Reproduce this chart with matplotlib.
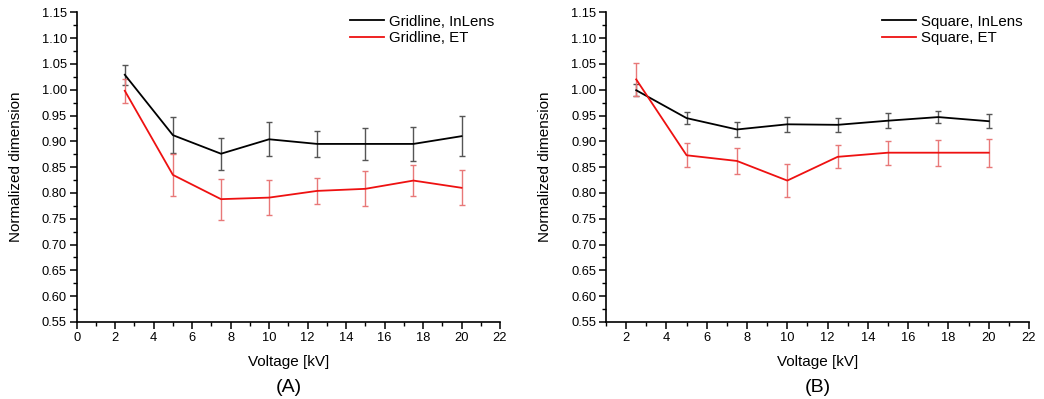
import numpy as np
import matplotlib.pyplot as plt
from matplotlib.ticker import MultipleLocator

plt.rcParams['font.family'] = ['Liberation Sans', 'DejaVu Sans']

# Tensión de aceleración [kV]
voltaje = [2.5, 5, 7.5, 10, 12.5, 15, 17.5, 20]

# (A) Gridline
grid_inlens = [1.029, 0.912, 0.876, 0.904, 0.895, 0.895, 0.895, 0.910]
grid_inlens_err = [0.019, 0.035, 0.031, 0.033, 0.026, 0.031, 0.033, 0.039]
grid_et = [0.998, 0.835, 0.788, 0.791, 0.804, 0.808, 0.824, 0.810]
grid_et_err = [0.023, 0.041, 0.040, 0.034, 0.025, 0.034, 0.030, 0.034]

# (B) Square
sq_inlens = [0.999, 0.945, 0.923, 0.933, 0.932, 0.940, 0.947, 0.939]
sq_inlens_err = [0.012, 0.011, 0.015, 0.015, 0.014, 0.015, 0.011, 0.014]
sq_et = [1.020, 0.873, 0.862, 0.824, 0.870, 0.878, 0.878, 0.878]
sq_et_err = [0.032, 0.023, 0.026, 0.032, 0.022, 0.023, 0.025, 0.027]

fig = plt.figure(figsize=(10.44, 3.99), dpi=100)
ax1 = fig.add_axes([76.7/1044, 1 - 322/399, 423.3/1044, 309.7/399])
ax2 = fig.add_axes([606/1044, 1 - 322/399, 423/1044, 309.7/399])


def panel(ax, y1, e1, y2, e2, lab1, lab2, xmin, letra):
    ax.errorbar(voltaje, y1, yerr=e1, color='black', lw=1.3, ecolor='#555555',
                elinewidth=1.0, capsize=2.2, capthick=1.0, label=lab1)
    ax.errorbar(voltaje, y2, yerr=e2, color='#ee1111', lw=1.3, ecolor='#e87878',
                elinewidth=1.0, capsize=2.2, capthick=1.0, label=lab2)
    ax.set_xlim(xmin, 22)
    ax.set_ylim(0.55, 1.15)
    ax.xaxis.set_major_locator(MultipleLocator(2))
    ax.xaxis.set_minor_locator(MultipleLocator(1))
    ax.yaxis.set_major_locator(MultipleLocator(0.05))
    ax.yaxis.set_minor_locator(MultipleLocator(0.025))
    ax.yaxis.set_major_formatter(lambda v, p: f"{v:.2f}")
    ax.spines['top'].set_visible(False)
    ax.spines['right'].set_visible(False)
    ax.spines['left'].set_linewidth(1.2)
    ax.spines['bottom'].set_linewidth(1.2)
    ax.tick_params(which='major', direction='out', length=5, width=1.1,
                   labelsize=9.3, pad=2)
    ax.tick_params(which='minor', direction='out', length=3, width=1.0)
    ax.set_xlabel("Voltage [kV]", fontsize=11)
    ax.set_ylabel("Normalized dimension", fontsize=11)
    ax.xaxis.set_label_coords(0.5, -0.108)
    ax.yaxis.set_label_coords(-0.128, 0.5)
    h, l = ax.get_legend_handles_labels()
    ax.legend([x[0] for x in h], l, loc='upper right', frameon=False,
              fontsize=10.8, handlelength=2.27, handletextpad=0.33,
              labelspacing=0.15, borderaxespad=0.0,
              bbox_to_anchor=(1.0, 1.012))
    ax.text(0.5, -0.185, letra, transform=ax.transAxes, ha='center',
            va='top', fontsize=14)


panel(ax1, grid_inlens, grid_inlens_err, grid_et, grid_et_err,
      "Gridline, InLens", "Gridline, ET", 0, "(A)")
panel(ax2, sq_inlens, sq_inlens_err, sq_et, sq_et_err,
      "Square, InLens", "Square, ET", 1, "(B)")

fig.savefig("out.png", dpi=100)
